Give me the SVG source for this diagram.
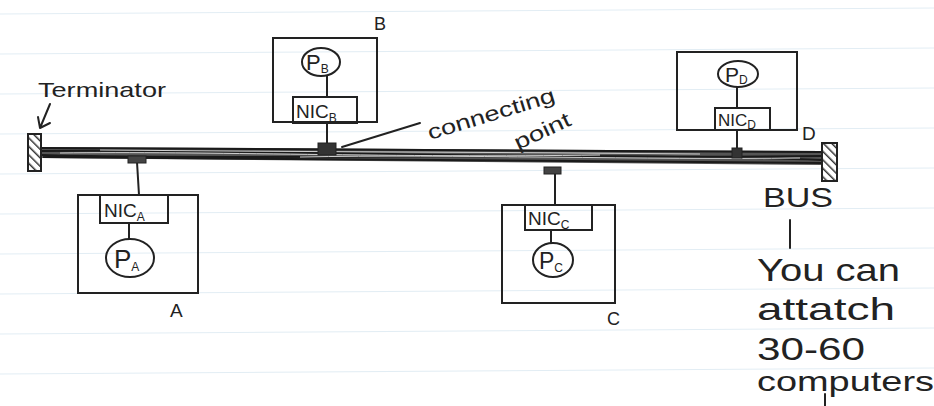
<svg xmlns="http://www.w3.org/2000/svg" width="934" height="406" viewBox="0 0 934 406">
<defs>
<style>
.ln{stroke:#222;stroke-width:2;fill:none;stroke-linecap:round;stroke-linejoin:round}
.box{stroke:#222;stroke-width:2;fill:none}
.t{font-family:"Liberation Sans","DejaVu Sans",sans-serif;fill:#222}
.nic{font-size:19px}
.sub{font-size:12px}
.rule{stroke:#e2edf4;stroke-width:1}
</style>
<pattern id="hatch" patternUnits="userSpaceOnUse" width="6" height="6" patternTransform="rotate(-45)">
<rect width="6" height="6" fill="#fff"/>
<line x1="0" y1="0" x2="0" y2="6" stroke="#333" stroke-width="3"/>
</pattern>
</defs>
<rect width="934" height="406" fill="#fff"/>
<g id="paper">
<line class="rule" x1="0" y1="14" x2="934" y2="8"/>
<line class="rule" x1="0" y1="54" x2="934" y2="48"/>
<line class="rule" x1="0" y1="94" x2="934" y2="88"/>
<line class="rule" x1="0" y1="134" x2="934" y2="128"/>
<line class="rule" x1="0" y1="174" x2="934" y2="168"/>
<line class="rule" x1="0" y1="214" x2="934" y2="208"/>
<line class="rule" x1="0" y1="254" x2="934" y2="248"/>
<line class="rule" x1="0" y1="294" x2="934" y2="288"/>
<line class="rule" x1="0" y1="334" x2="934" y2="328"/>
<line class="rule" x1="0" y1="374" x2="934" y2="368"/>
</g>
<g id="connectors">
<polygon points="41,147 822,151 822,165 41,158" fill="#555"/>
<path d="M41,148 L822,152 M41,151 C300,149 500,160 822,156 M41,155 C250,161 600,151 822,160 M43,157 L822,163" stroke="#1a1a1a" stroke-width="2" fill="none"/>
<path d="M60,153 C200,151 400,158 600,155 M300,157 C450,154 650,160 800,158 M100,150 C300,152 500,152 700,154" stroke="#cfcfcf" stroke-width="1" fill="none"/>
<line class="ln" x1="137" y1="162" x2="139" y2="195"/>
<line class="ln" x1="327" y1="123" x2="327" y2="144"/>
<line class="ln" x1="555" y1="173" x2="555" y2="205"/>
<line class="ln" x1="737" y1="130" x2="737" y2="150"/>
<line class="ln" x1="342" y1="147" x2="420" y2="123"/>
<path class="ln" d="M50,104 L40,128 M38,117 L40,128 L50,123"/>
<line class="ln" x1="790" y1="220" x2="790" y2="248"/>
<line class="ln" x1="825" y1="394" x2="825" y2="406"/>
</g>
<g id="terminator-left">
<rect x="28" y="134" width="13" height="37" fill="url(#hatch)" stroke="#222" stroke-width="2"/>
<text class="t" x="38" y="97" font-size="21" textLength="128" lengthAdjust="spacingAndGlyphs">Terminator</text>
</g>
<g id="terminator-right">
<rect x="822" y="143" width="15" height="38" fill="url(#hatch)" stroke="#222" stroke-width="2"/>
</g>
<g id="node-A">
<rect x="128" y="156" width="18" height="7" fill="#444" stroke="#222" stroke-width="1"/>
<rect class="box" x="78" y="195" width="120" height="98"/>
<rect class="box" x="100" y="195" width="68" height="28"/>
<text class="t nic" x="104" y="217">NIC<tspan class="sub" dy="4">A</tspan></text>
<line class="ln" x1="129" y1="223" x2="129" y2="239"/>
<ellipse class="box" cx="130" cy="258" rx="24" ry="19"/>
<text class="t" x="114" y="268" font-size="26">P<tspan class="sub" font-size="15" dy="3">A</tspan></text>
<text class="t" x="170" y="317" font-size="19">A</text>
</g>
<g id="node-B">
<rect x="318" y="143" width="18" height="12" fill="#333" stroke="#222" stroke-width="1"/>
<rect class="box" x="273" y="38" width="104" height="84"/>
<ellipse class="box" cx="321" cy="62" rx="19" ry="14"/>
<text class="t" x="306" y="70" font-size="22">P<tspan class="sub" font-size="13" dy="3">B</tspan></text>
<line class="ln" x1="327" y1="76" x2="327" y2="97"/>
<rect class="box" x="293" y="97" width="64" height="26"/>
<text class="t nic" x="296" y="118">NIC<tspan class="sub" dy="4">B</tspan></text>
<text class="t" x="374" y="30" font-size="18">B</text>
</g>
<g id="connecting-point-label">
<text class="t" font-size="21" transform="translate(430,140) rotate(-17)" textLength="132" lengthAdjust="spacingAndGlyphs">connecting</text>
<text class="t" font-size="21" transform="translate(518,150) rotate(-25)" textLength="60" lengthAdjust="spacingAndGlyphs">point</text>
</g>
<g id="node-C">
<rect x="544" y="167" width="17" height="7" fill="#444" stroke="#222" stroke-width="1"/>
<rect class="box" x="502" y="205" width="113" height="98"/>
<rect class="box" x="525" y="205" width="67" height="25"/>
<text class="t nic" x="528" y="225">NIC<tspan class="sub" dy="4">C</tspan></text>
<line class="ln" x1="551" y1="230" x2="551" y2="243"/>
<ellipse class="box" cx="553" cy="260" rx="20" ry="17"/>
<text class="t" x="539" y="269" font-size="23">P<tspan class="sub" font-size="13" dy="3">C</tspan></text>
<text class="t" x="607" y="325" font-size="18">C</text>
</g>
<g id="node-D">
<rect x="732" y="148" width="10" height="10" fill="#333" stroke="#222" stroke-width="1"/>
<rect class="box" x="677" y="52" width="120" height="78"/>
<ellipse class="box" cx="738" cy="74" rx="20" ry="13"/>
<text class="t" x="725" y="82" font-size="21">P<tspan class="sub" dy="2">D</tspan></text>
<line class="ln" x1="737" y1="87" x2="737" y2="108"/>
<rect class="box" x="715" y="108" width="55" height="22"/>
<text class="t" x="718" y="126" font-size="17">NIC<tspan class="sub" font-size="11" dy="3">D</tspan></text>
<text class="t" x="802" y="140" font-size="19">D</text>
</g>
<g id="bus-label">
<text class="t" x="763" y="207" font-size="28" textLength="70" lengthAdjust="spacingAndGlyphs">BUS</text>
<text class="t" x="757" y="281" font-size="32" textLength="143" lengthAdjust="spacingAndGlyphs">You can</text>
<text class="t" x="757" y="320" font-size="32" textLength="138" lengthAdjust="spacingAndGlyphs">attatch</text>
<text class="t" x="757" y="360" font-size="31" textLength="108" lengthAdjust="spacingAndGlyphs">30-60</text>
<text class="t" x="757" y="391" font-size="28" textLength="177" lengthAdjust="spacingAndGlyphs">computers</text>
</g>
</svg>
